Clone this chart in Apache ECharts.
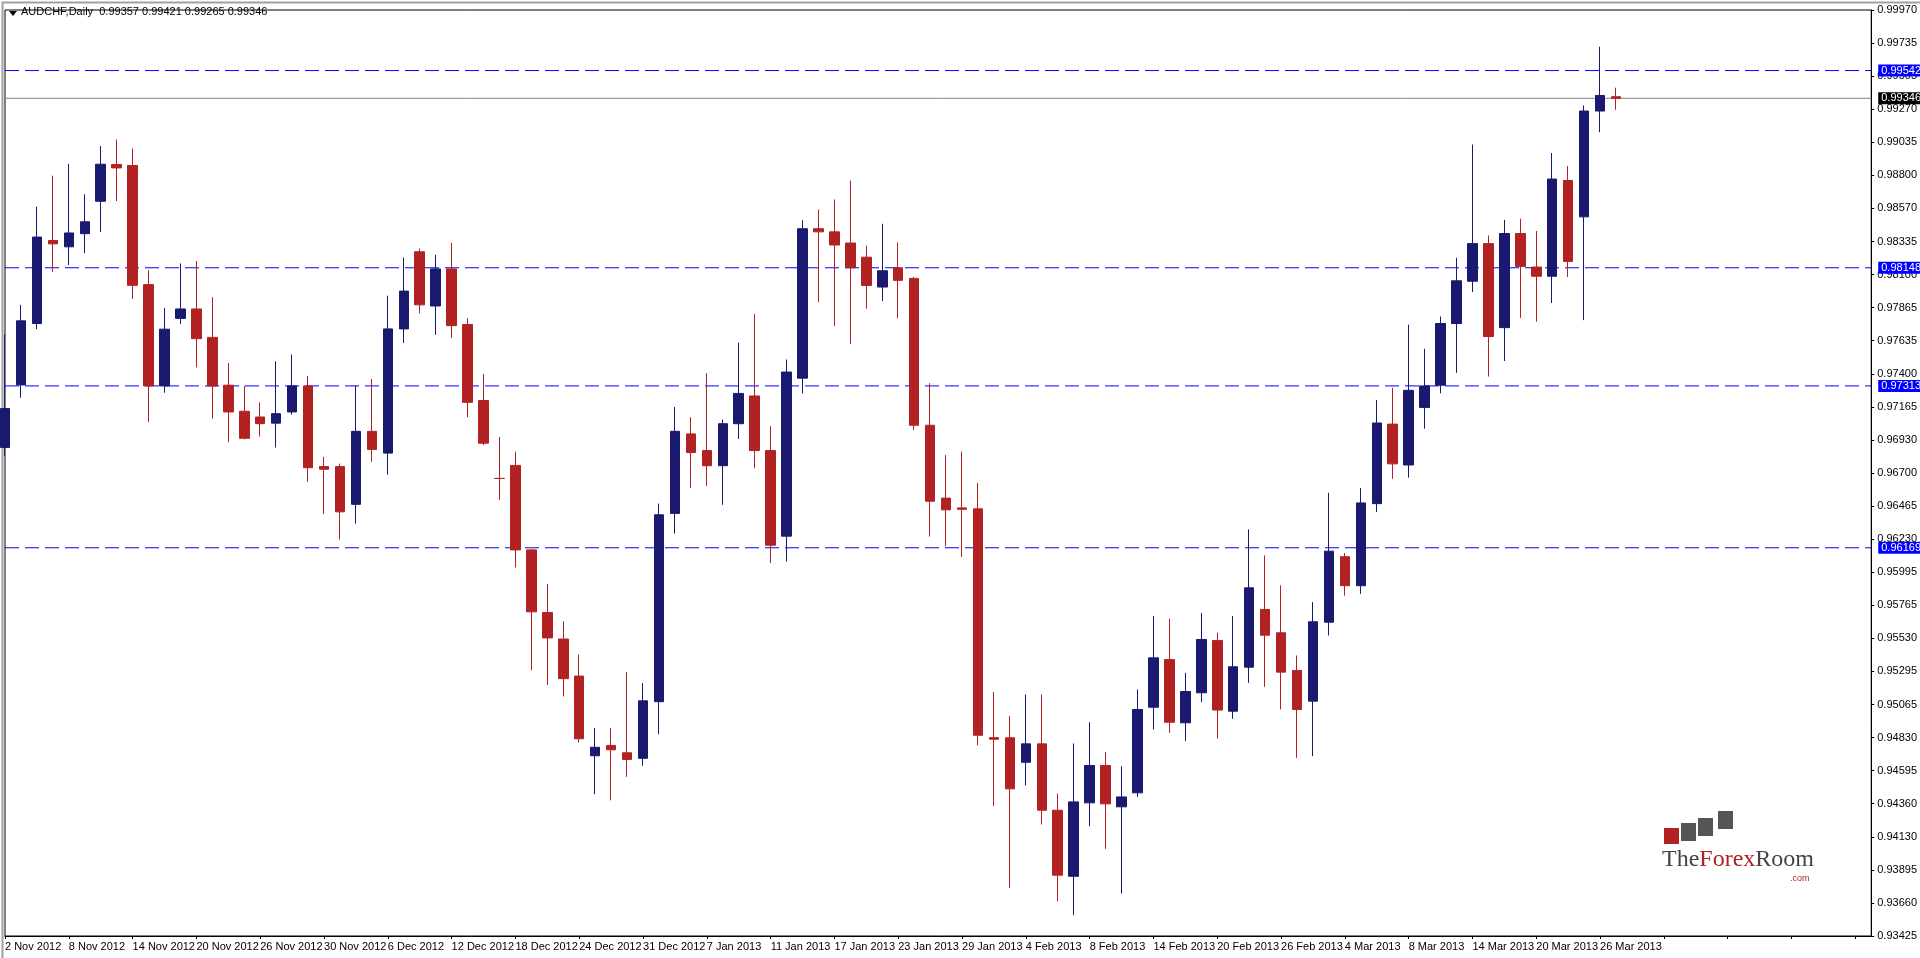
<!DOCTYPE html>
<html><head><meta charset="utf-8">
<script src="https://cdn.jsdelivr.net/npm/echarts@6/dist/echarts.min.js"></script>
<style>html,body{margin:0;padding:0;background:#fff;}#c{width:1920px;height:958px;}</style>
</head><body><div id="c"></div>
<script>
const monthDays = [
  ['Nov 2012',[2,5,6,7,8,9,12,13,14,15,16,19,20,21,22,23,26,27,28,29,30]],
  ['Dec 2012',[3,4,5,6,7,10,11,12,13,14,17,18,19,20,21,24,26,27,28,31]],
  ['Jan 2013',[2,3,4,7,8,9,10,11,14,15,16,17,18,21,22,23,24,25,28,29,30,31]],
  ['Feb 2013',[1,4,5,6,7,8,11,12,13,14,15,18,19,20,21,22,25,26,27,28]],
  ['Mar 2013',[1,4,5,6,7,8,11,12,13,14,15,18,19,20,21,22,25,26,27]]
];
const opens = [.96878,.97320,.97754,.98341,.98296,.98389,.98618,.98878,.98871,.98029,.97313,.97790,.97857,.97656,.97318,.97134,.97093,.97050,.97129,.97313,.96743,.96743,.96476,.96992,.96838,.97716,.98261,.97878,.98140,.97747,.97210,.96659,.96751,.96154,.95711,.95524,.95262,.94699,.94772,.94720,.94681,.95081,.96412,.96974,.96856,.96749,.97046,.97242,.96856,.96251,.97368,.98424,.98402,.98323,.98223,.98012,.98148,.98073,.97035,.96520,.96451,.96444,.94827,.94826,.94653,.94783,.94314,.93847,.94366,.94630,.94338,.94437,.95042,.95379,.94932,.95144,.95514,.95014,.95325,.95733,.95568,.95302,.95085,.95643,.96106,.95901,.96481,.97043,.96754,.97161,.97318,.97754,.98053,.98319,.97725,.98390,.98153,.98088,.98765,.98508,.99256,.99357];
const closes = [.97153,.97773,.98365,.98317,.98394,.98473,.98880,.98854,.98024,.97313,.97714,.97857,.97647,.97313,.97129,.96943,.97046,.97117,.97313,.96735,.96724,.96423,.96992,.96864,.97716,.97983,.97886,.98140,.97739,.97197,.96908,.96659,.96154,.95716,.95532,.95244,.94819,.94759,.94741,.94673,.95087,.96402,.96992,.96842,.96749,.97046,.97260,.96856,.96187,.97411,.98424,.98402,.98309,.98148,.98023,.98127,.98059,.97035,.96498,.96437,.96441,.94844,.94816,.94465,.94783,.94314,.93855,.94373,.94630,.94359,.94408,.95026,.95391,.94936,.95153,.95521,.95022,.95328,.95886,.95551,.95290,.95026,.95646,.96145,.95901,.96486,.97051,.96762,.97282,.97313,.97754,.98056,.98319,.97662,.98390,.98158,.98088,.98775,.98193,.99256,.99366,.99346];
const lows = [.96819,.97229,.97714,.98119,.98167,.98251,.98401,.98620,.97928,.97058,.97265,.97750,.97444,.97082,.96914,.96935,.96955,.96878,.97110,.96635,.96406,.96227,.96340,.96777,.96686,.97616,.97826,.97674,.97650,.97092,.96895,.96507,.96030,.95302,.95199,.95118,.94793,.94427,.94384,.94550,.94628,.94851,.96269,.96591,.96606,.96473,.96938,.96731,.96061,.96072,.97260,.97905,.97736,.97608,.97858,.97912,.97790,.97000,.96248,.96180,.96104,.94773,.94344,.93765,.94489,.94213,.93671,.93572,.94201,.94041,.93725,.94408,.94884,.94861,.94802,.95078,.94819,.94960,.95214,.95186,.95026,.94684,.94696,.95549,.95830,.95843,.96421,.96657,.96665,.97011,.97261,.97405,.97977,.97379,.97489,.97794,.97767,.97899,.98082,.97778,.99106,.99265];
const highs = [.97678,.97886,.98580,.98799,.98883,.98668,.99009,.99055,.98990,.98131,.97864,.98179,.98196,.97940,.97475,.97313,.97196,.97487,.97535,.97384,.96812,.96764,.97315,.97362,.97951,.98219,.98284,.98240,.98324,.97792,.97399,.96953,.96848,.96160,.95912,.95650,.95414,.94896,.94896,.95291,.95212,.96481,.97164,.97092,.97404,.97074,.97618,.97822,.97028,.97500,.98484,.98560,.98631,.98764,.98305,.98459,.98327,.98084,.97332,.96824,.96849,.96627,.95149,.94979,.95132,.95132,.94432,.94786,.94936,.94725,.94625,.95167,.95686,.95667,.95285,.95709,.95568,.95686,.96299,.96115,.95903,.95408,.95785,.96558,.96132,.96591,.97213,.97300,.97746,.97576,.97804,.98219,.99019,.98376,.98487,.98495,.98408,.98959,.98867,.99295,.99710,.99421];
const tickLabels = ['0.93425','0.93660','0.93895','0.94130','0.94360','0.94595','0.94830','0.95065','0.95295','0.95530','0.95765','0.95995','0.96230','0.96465','0.96700','0.96930','0.97165','0.97400','0.97635','0.97865','0.98100','0.98335','0.98570','0.98800','0.99035','0.99270','0.99505','0.99735','0.99970'];
const levelLines = [0.99542, 0.98148, 0.97313, 0.96169];
const lastPrice = 0.99346;
const titleText = 'AUDCHF,Daily  0.99357 0.99421 0.99265 0.99346';
const padCount = 16;

const categories = [];
monthDays.forEach(([m, ds]) => ds.forEach(d => categories.push(d + ' ' + m)));
const data = opens.map((o, i) => [o, closes[i], lows[i], highs[i]]);
for (let i = 0; i < padCount; i++) { categories.push(' ' + i); data.push('-'); }
const lastIdx = categories.length - 1;

const yMin = 0.93425, yMax = 0.99970, yInt = (yMax - yMin) / 28;
const chart = echarts.init(document.getElementById('c'));
function hLine(v, color, dash, bg) {
  return {type: 'line', data: [[0, v], [lastIdx, v]], symbol: 'none', silent: true, z: 1,
    lineStyle: {color: color, type: dash, width: 1},
    endLabel: {show: true, formatter: v.toFixed(5), color: '#fff', backgroundColor: bg, padding: [1, 3, 0, 3],
      fontSize: 11, fontFamily: 'Liberation Sans', distance: 7}};
}
const lines = [hLine(lastPrice, '#808080', 'solid', '#000')];
levelLines.forEach(v => lines.push(hLine(v, '#0000ff', [14, 6], '#0000ff')));

chart.setOption({
  animation: false,
  backgroundColor: '#fff',
  grid: {left: 5, right: 45, top: 10, bottom: 22, show: true, borderColor: '#000', borderWidth: 1},
  xAxis: {type: 'category', data: categories, boundaryGap: false,
    axisLine: {lineStyle: {color: '#000'}},
    axisTick: {show: true, interval: 3, length: 3, lineStyle: {color: '#000'}},
    axisLabel: {interval: 3, align: 'left', color: '#000', fontSize: 11, fontFamily: 'Liberation Sans', margin: 5,
      formatter: v => v.trim().match(/^\d+$/) ? '' : v},
    splitLine: {show: false}},
  yAxis: {type: 'value', position: 'right', min: yMin, max: yMax, interval: yInt,
    axisLine: {show: true, lineStyle: {color: '#000'}},
    axisTick: {show: true, length: 3, lineStyle: {color: '#000'}},
    axisLabel: {color: '#000', fontSize: 11, fontFamily: 'Liberation Sans', margin: 6,
      formatter: v => tickLabels[Math.round((v - yMin) / yInt)] || ''},
    splitLine: {show: false}},
  series: lines.concat([
    {type: 'candlestick', data: data, barWidth: 10, z: 3,
      itemStyle: {color: '#191970', color0: '#b22222', borderColor: '#191970', borderColor0: '#b22222', borderWidth: 1}}
  ]),
  graphic: [
    {type: 'rect', left: 0, top: 0, shape: {width: 1919, height: 957}, style: {fill: 'none', stroke: '#a0a0a0', lineWidth: 2}, silent: true},
    {type: 'polygon', shape: {points: [[9, 11], [17, 11], [13, 16]]}, style: {fill: '#000'}},
    {type: 'text', left: 21, top: 6, style: {text: titleText, fill: '#000', font: '11px "Liberation Sans"'}},
    {type: 'rect', shape: {x: 1664, y: 828, width: 15, height: 16}, style: {fill: '#b22222'}},
    {type: 'rect', shape: {x: 1681, y: 823, width: 15, height: 18}, style: {fill: '#555'}},
    {type: 'rect', shape: {x: 1698, y: 818, width: 15, height: 18}, style: {fill: '#555'}},
    {type: 'rect', shape: {x: 1718, y: 811, width: 15, height: 18}, style: {fill: '#555'}},
    {type: 'text', left: 1662, top: 848, style: {rich: {a: {fill: '#444', font: '24px "Liberation Serif"'}, b: {fill: '#b22222', font: '24px "Liberation Serif"'}}, text: '{a|The}{b|Forex}{a|Room}'}},
    {type: 'text', left: 1790, top: 874, style: {text: '.com', fill: '#b22222', font: '9px "Liberation Sans"'}}
  ]
});
</script></body></html>
